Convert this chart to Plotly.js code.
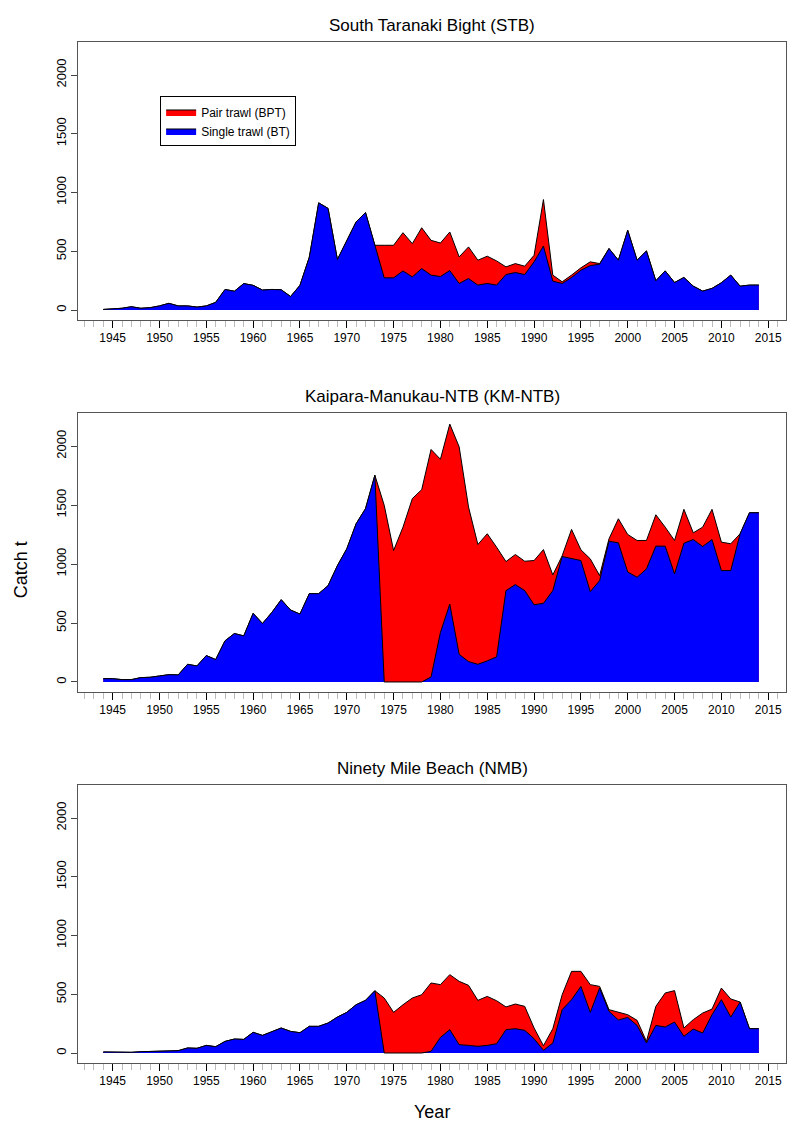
<!DOCTYPE html>
<html>
<head>
<meta charset="utf-8">
<script src="https://cdn.plot.ly/plotly-3.0.1.min.js"></script>
<style>body{margin:0;background:#fff}#plot{width:787px;height:1122px}</style>
</head>
<body>
<div id="plot"></div>
<script>
// catch by fishing year, tonnes
var years = [];
for (var y = 1944; y <= 2014; y++) years.push(y);

// STB: total (all trawl) and single trawl
var stbTotal = [5,10,15,28,15,20,35,57,35,35,25,35,65,175,160,225,210,170,175,172,115,210,450,912,865,430,593,750,830,551,
  551,551,658,565,700,593,570,664,452,537,424,458,418,367,395,373,466,940,297,240,297,359,410,395,523,424,678,424,503,249,
  333,234,277,203,161,184,232,297,203,212,212];
var stbSingle = [5,10,15,28,15,20,35,57,35,35,25,35,65,175,160,225,210,170,175,172,115,210,450,912,865,430,593,750,830,551,
  274,274,333,282,353,297,285,336,226,268,212,226,212,302,319,302,410,545,246,226,277,339,378,390,523,424,678,424,503,249,
  333,234,277,203,161,184,232,297,203,212,212];

// KM-NTB
var kmTotal = [28,28,20,20,37,40,51,62,60,150,136,224,190,349,411,391,582,496,590,698,610,576,749,749,817,987,1129,1342,1470,1753,
  1498,1115,1313,1555,1631,1972,1889,2187,1994,1484,1166,1257,1143,1021,1081,1024,1030,1123,908,1070,1294,1121,1044,902,1214,1384,
  1251,1200,1200,1418,1313,1200,1464,1265,1313,1464,1186,1172,1257,1435,1435];
var kmSingle = [28,28,20,20,37,40,51,62,60,150,136,224,190,349,411,391,582,496,590,698,610,576,749,749,817,987,1129,1342,1470,1753,
  0,0,0,0,0,43,420,661,235,173,150,179,213,775,826,775,655,667,775,1064,1044,1030,766,860,1194,1180,
  933,888,959,1152,1152,916,1177,1208,1149,1208,945,945,1257,1435,1435];

// NMB
var nmbTotal = [9,6,3,6,11,14,17,20,20,43,40,65,54,99,119,116,176,150,179,213,184,173,227,227,255,306,346,411,448,530,
  468,346,411,468,496,596,582,667,610,576,448,482,445,392,417,397,213,62,207,496,695,695,582,567,369,349,
  326,278,99,397,511,531,213,284,340,374,553,460,434,207,207];
var nmbSingle = [9,6,3,6,11,14,17,20,20,43,40,65,54,99,119,116,176,150,179,213,184,173,227,227,255,306,346,411,448,530,
  0,0,0,0,0,14,133,199,71,65,57,65,79,199,207,193,122,23,85,369,454,567,346,553,355,281,
  303,235,85,235,221,264,142,204,170,326,454,306,434,207,207];

var panels = [
  {title: "South Taranaki Bight (STB)", total: stbTotal, single: stbSingle},
  {title: "Kaipara-Manukau-NTB (KM-NTB)", total: kmTotal, single: kmSingle},
  {title: "Ninety Mile Beach (NMB)", total: nmbTotal, single: nmbSingle}
];
var boxes = [[42, 320], [413, 692], [785, 1063]];
var H = 1122;

var traces = [];
var layout = {
  width: 787, height: 1122,
  margin: {l: 78, r: 1, t: 0, b: 0},
  paper_bgcolor: "white", plot_bgcolor: "white",
  font: {family: "Liberation Sans, Arial, sans-serif", size: 12, color: "black"},
  showlegend: true,
  legend: {x: 0.116, y: 0.914, xanchor: "left", yanchor: "top", bgcolor: "white",
    bordercolor: "black", borderwidth: 1, font: {size: 12}, tracegroupgap: 0},
  annotations: [],
};

panels.forEach(function(p, i) {
  var n = i === 0 ? "" : String(i + 1);
  traces.push({
    name: "Pair trawl (BPT)", type: "scatter", mode: "lines", x: years, y: p.total,
    fill: "tozeroy", fillcolor: "red", line: {color: "black", width: 1},
    xaxis: "x" + n, yaxis: "y" + n, showlegend: i === 0, hoverinfo: "x+y",
  });
  traces.push({
    name: "Single trawl (BT)", type: "scatter", mode: "lines", x: years, y: p.single,
    fill: "tozeroy", fillcolor: "blue", line: {color: "black", width: 1},
    xaxis: "x" + n, yaxis: "y" + n, showlegend: i === 0, hoverinfo: "x+y",
  });
  var b = boxes[i];
  layout["xaxis" + n] = {
    domain: [0, 1], anchor: "y" + n, range: [1941.3, 2016.9],
    tick0: 1945, dtick: 5, ticks: "outside", ticklen: 7, tickcolor: "black",
    showgrid: false, zeroline: false, showline: true, linecolor: "#555", mirror: true,
    tickfont: {size: 12},
    minor: {dtick: 1, ticks: "outside", ticklen: 6, tickcolor: "#bbb", showgrid: false},
  };
  layout["yaxis" + n] = {
    domain: [1 - b[1] / H, 1 - b[0] / H], anchor: "x" + n, range: [-85, 2281],
    tickvals: [0, 500, 1000, 1500, 2000], ticks: "outside", ticklen: 6, tickangle: -90,
    showgrid: false, zeroline: false, showline: true, linecolor: "#555", mirror: true,
    tickfont: {size: 13},
  };
  layout.annotations.push({
    text: p.title, xref: "paper", yref: "paper", x: 0.5, y: 1 - (b[0] - 17) / H,
    showarrow: false, font: {size: 17}, yanchor: "middle",
  });
});

layout.annotations.push({text: "Catch t", xref: "paper", yref: "paper", x: -0.08, y: 1 - 570 / H,
  showarrow: false, textangle: -90, font: {size: 18}, xanchor: "center"});
layout.annotations.push({text: "Year", xref: "paper", yref: "paper", x: 0.5, y: 1 - 1112 / H,
  showarrow: false, font: {size: 18}, yanchor: "middle"});

Plotly.newPlot("plot", traces, layout, {displayModeBar: false});
</script>
</body>
</html>
